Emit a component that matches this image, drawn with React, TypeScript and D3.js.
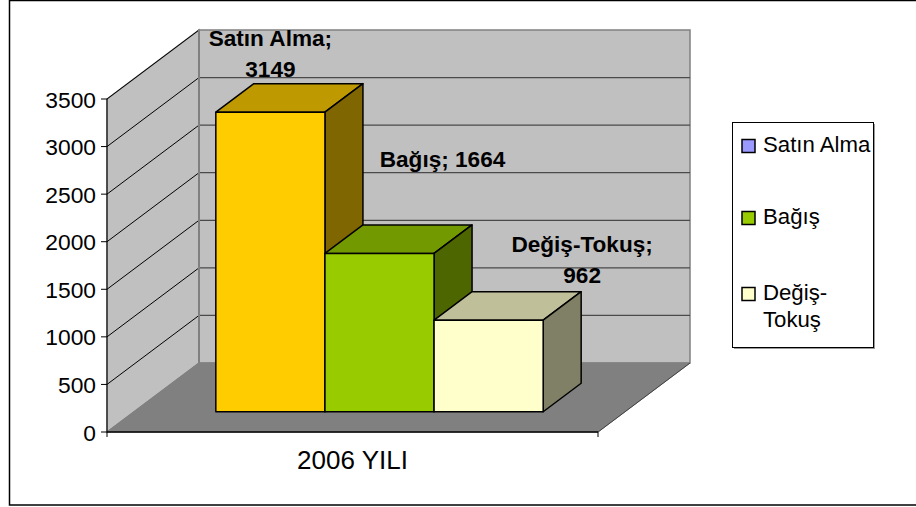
import React from "react";
import * as d3 from "d3";

const categories = ["2006 YILI"];
const seriesNames = ["Satın Alma", "Bağış", "Değiş-Tokuş"];
const seriesValues = [3149, 1664, 962];
const yTicks = [0, 500, 1000, 1500, 2000, 2500, 3000, 3500];
const labelLines = [["Satın Alma;", "3149"], ["Bağış; 1664"], ["Değiş-Tokuş;", "962"]];
const legendLines = [["Satın Alma"], ["Bağış"], ["Değiş-", "Tokuş"]];

const frontColors = ["#FFCC00", "#99CC00", "#FFFFCC"];
const topColors = ["#BF9900", "#739900", "#BFBF99"];
const sideColors = ["#806600", "#4D6600", "#808066"];
const legendColors = ["#9999FF", "#99CC00", "#FFFFCC"];

const W = 916, H = 507;
const FONT = "'Liberation Sans', Arial, sans-serif";

export default function App() {
  const x0 = 107, x1 = 598;
  const y = d3.scaleLinear().domain([0, 3500]).range([432, 99]);
  const DX = 92, DY = -69; // depth vector of floor
  const cat = d3.scaleBand().domain(categories).range([x0, x1]).padding(0);
  const cw = cat.bandwidth();
  const bw = cw / 4.5;
  const inner = d3.scaleBand().domain(seriesNames).range([0.75 * bw, cw - 0.75 * bw]).padding(0);
  const dFront = 0.2935, dBack = 0.7065;

  const pt = (px: number, py: number) => `${px},${py}`;
  const yTop = y(3500), yBot = y(0);

  const leftWall = [pt(x0, yTop), pt(x0 + DX, yTop + DY), pt(x0 + DX, yBot + DY), pt(x0, yBot)].join(" ");
  const backWall = [pt(x0 + DX, yTop + DY), pt(x1 + DX, yTop + DY), pt(x1 + DX, yBot + DY), pt(x0 + DX, yBot + DY)].join(" ");
  const floor = [pt(x0, yBot), pt(x1, yBot), pt(x1 + DX, yBot + DY), pt(x0 + DX, yBot + DY)].join(" ");

  const bars = seriesNames.map((s, i) => {
    const bx = (cat(categories[0]) as number) + (inner(s) as number) + dFront * DX;
    const bw2 = inner.bandwidth();
    const fy0 = y(0) + dFront * DY;
    const fy1 = y(seriesValues[i]) + dFront * DY;
    const ddx = (dBack - dFront) * DX, ddy = (dBack - dFront) * DY;
    return { bx, bw2, fy0, fy1, ddx, ddy };
  });

  const labelOffsets = [[0, -6.5], [63, -58], [93.5, -8.7]];
  const lineH = 31.5;

  const legendX = 732.5, legendY = 122.5, legendW = 141, legendH = 225;
  const legendEntryY = [152, 224, 300];

  return (
    <svg width={W} height={H} style={{ position: "absolute", left: 0, top: 0, background: "#fff" }} fontFamily={FONT}>
      <rect x={9.5} y={0.5} width={930} height={504.5} fill="#fff" stroke="#000" strokeWidth={1.5} />

      <polygon points={leftWall} fill="#C0C0C0" stroke="#808080" strokeWidth={1.5} />
      <polygon points={backWall} fill="#C0C0C0" stroke="#808080" strokeWidth={1.5} />
      <polygon points={floor} fill="#808080" stroke="#808080" strokeWidth={1} />
      <line x1={x1} y1={yBot} x2={x1 + DX} y2={yBot + DY} stroke="#404040" strokeWidth={1} />

      {yTicks.filter(t => t > 0).map(t => (
        <g key={"g" + t}>
          <line x1={x0} y1={y(t)} x2={x0 + DX} y2={y(t) + DY} stroke="#000" strokeWidth={1} />
          {t < 3500 && <line x1={x0 + DX} y1={y(t) + DY} x2={x1 + DX} y2={y(t) + DY} stroke="#4a4a4a" strokeWidth={1.2} />}
        </g>
      ))}
      <line x1={x0 + DX} y1={yTop + DY} x2={x0 + DX} y2={yBot + DY} stroke="#808080" strokeWidth={2} />

      <line x1={x0} y1={yTop} x2={x0} y2={yBot + 5} stroke="#000" strokeWidth={1} />
      <line x1={x0} y1={yBot} x2={x1} y2={yBot} stroke="#000" strokeWidth={1.5} />
      <line x1={x1} y1={yBot} x2={x1} y2={yBot + 5} stroke="#000" strokeWidth={1} />
      {yTicks.map(t => (
        <g key={"t" + t}>
          <line x1={x0 - 6} y1={y(t)} x2={x0} y2={y(t)} stroke="#000" strokeWidth={1} />
          <text x={96} y={y(t) + 8.5} textAnchor="end" fontSize={22.8} fill="#000">{t}</text>
        </g>
      ))}
      <text x={(cat(categories[0]) as number) + cw / 2} y={468.5} textAnchor="middle" fontSize={26} fill="#000">{categories[0]}</text>

      {bars.map((b, i) => (
        <g key={"b" + i} stroke="#000" strokeWidth={1.5} strokeLinejoin="round">
          <polygon points={[pt(b.bx, b.fy1), pt(b.bx + b.bw2, b.fy1), pt(b.bx + b.bw2 + b.ddx, b.fy1 + b.ddy), pt(b.bx + b.ddx, b.fy1 + b.ddy)].join(" ")} fill={topColors[i]} />
          <polygon points={[pt(b.bx + b.bw2, b.fy1), pt(b.bx + b.bw2 + b.ddx, b.fy1 + b.ddy), pt(b.bx + b.bw2 + b.ddx, b.fy0 + b.ddy), pt(b.bx + b.bw2, b.fy0)].join(" ")} fill={sideColors[i]} />
          <rect x={b.bx} y={b.fy1} width={b.bw2} height={b.fy0 - b.fy1} fill={frontColors[i]} />
        </g>
      ))}

      {bars.map((b, i) => {
        const cx = b.bx + b.bw2 / 2 + labelOffsets[i][0];
        const lastBase = b.fy1 + b.ddy + labelOffsets[i][1];
        const lines = labelLines[i];
        return (
          <text key={"l" + i} textAnchor="middle" fontSize={22.6} fontWeight="bold" fill="#000">
            {lines.map((ln, k) => (
              <tspan key={k} x={cx} y={lastBase - (lines.length - 1 - k) * lineH}>{ln}</tspan>
            ))}
          </text>
        );
      })}

      <rect x={legendX + 1.5} y={legendY + 1.5} width={legendW} height={legendH} fill="#999" />
      <rect x={legendX} y={legendY} width={legendW} height={legendH} fill="#fff" stroke="#000" strokeWidth={1} />
      {seriesNames.map((s, i) => (
        <g key={"lg" + i}>
          <rect x={742} y={legendEntryY[i] - 12.5} width={13} height={13} fill={legendColors[i]} stroke="#000" strokeWidth={1.5} />
          <text fontSize={22.2} fill="#000">
            {legendLines[i].map((ln, k) => (
              <tspan key={k} x={763} y={legendEntryY[i] + k * 27}>{ln}</tspan>
            ))}
          </text>
        </g>
      ))}
    </svg>
  );
}
